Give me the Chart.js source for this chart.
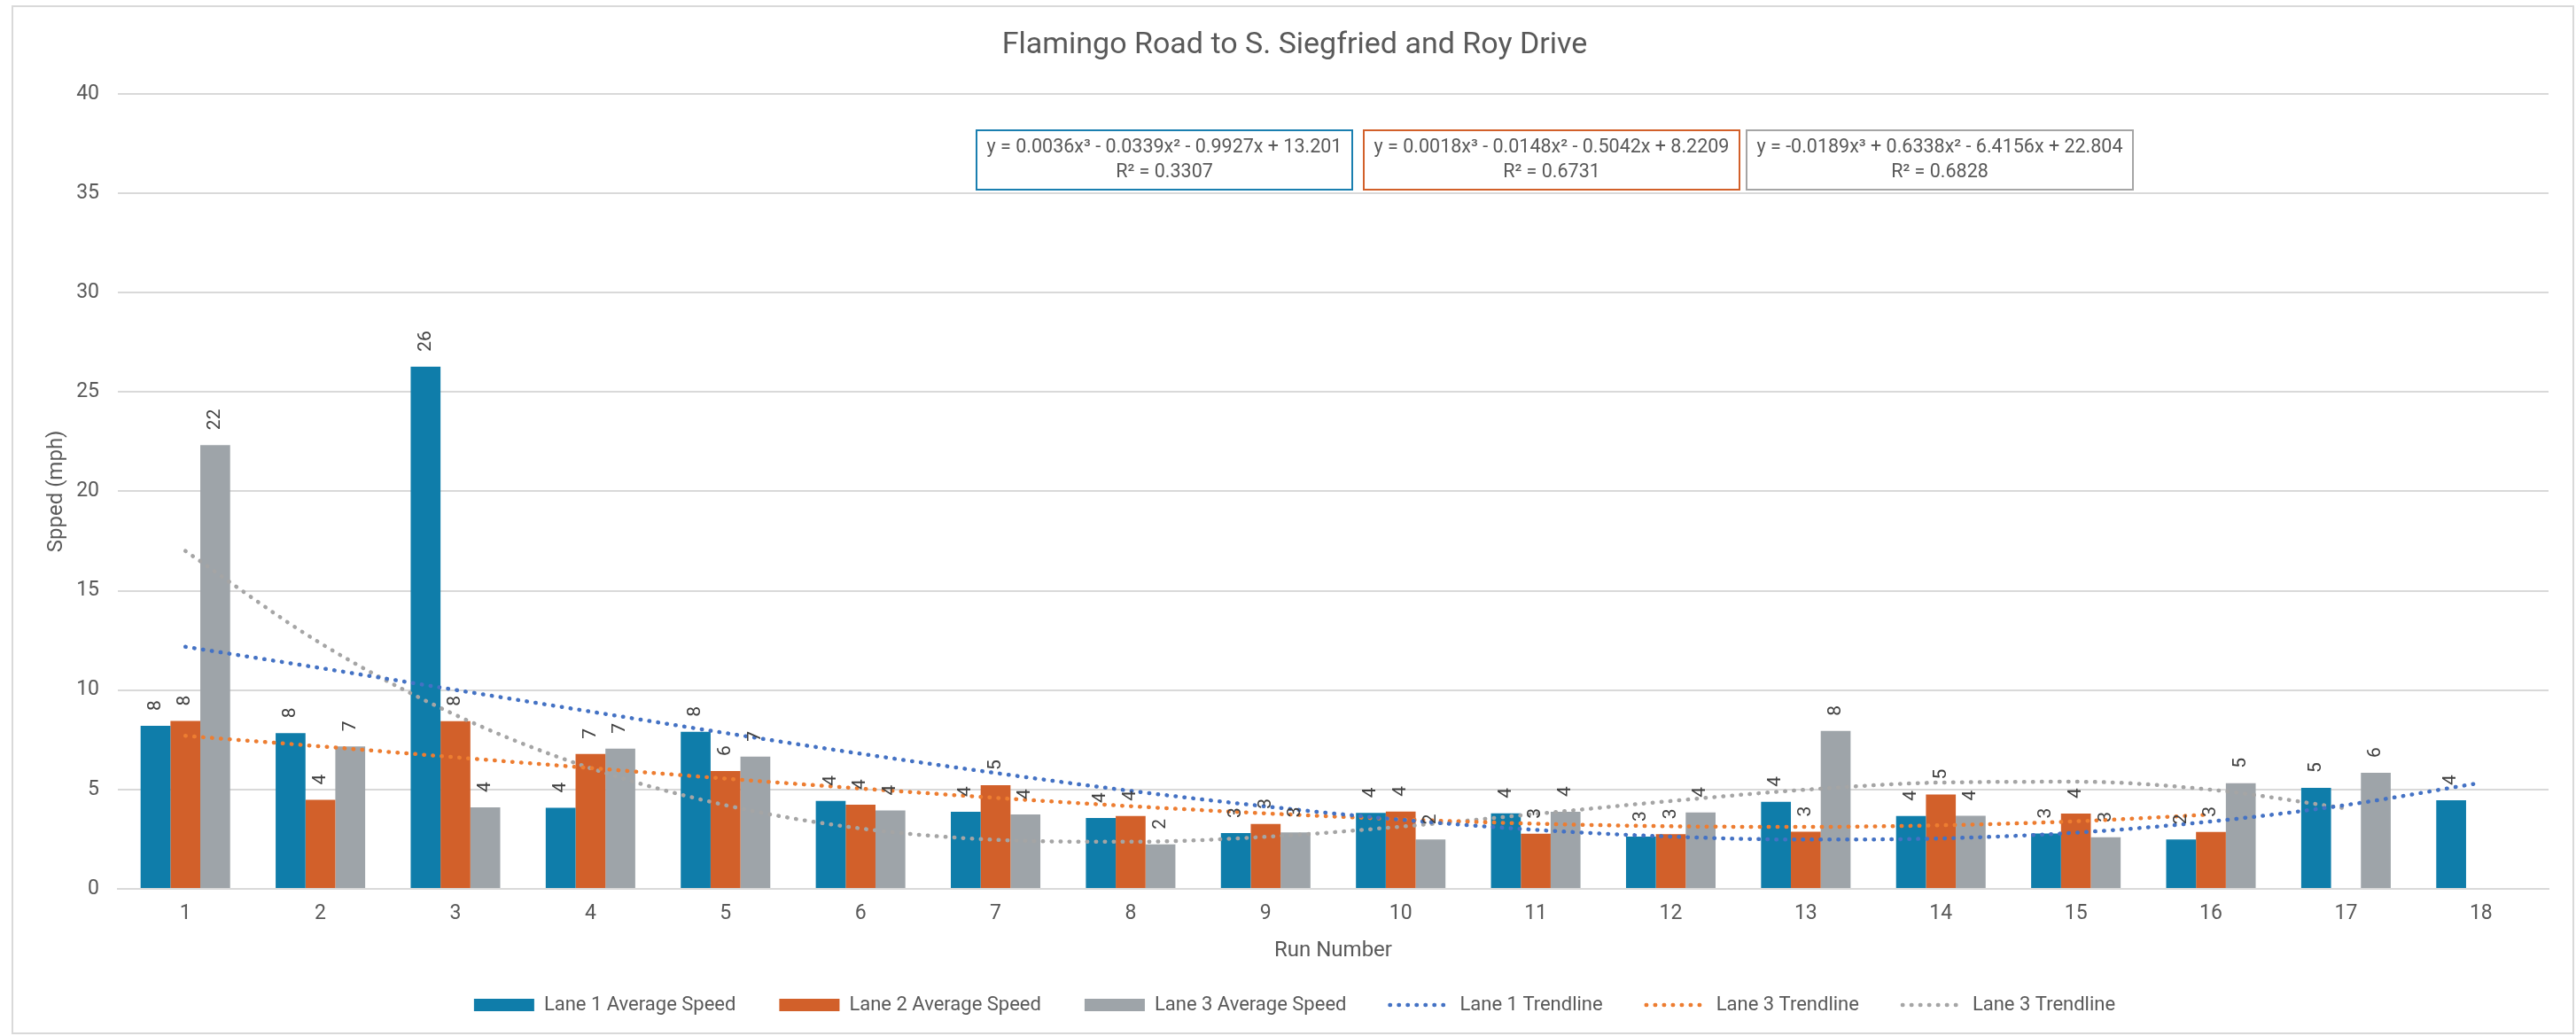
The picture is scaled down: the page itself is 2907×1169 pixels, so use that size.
<!DOCTYPE html>
<html>
<head>
<meta charset="utf-8">
<script src="https://cdn.jsdelivr.net/npm/chart.js@4/dist/chart.umd.min.js"></script>
<style>
  html, body { margin: 0; padding: 0; background: #ffffff; }
  #wrap { width: 2907px; height: 1169px; position: relative; }
</style>
</head>
<body>
<div id="wrap"><canvas id="c" width="2907" height="1169"></canvas></div>
<script>
// ---------- DATA ----------
const categories = ['1','2','3','4','5','6','7','8','9','10','11','12','13','14','15','16','17','18'];

const lane1Speed = [8.2, 7.84, 26.27, 4.08, 7.9, 4.42, 3.88, 3.57, 2.81, 3.82, 3.8, 2.63, 4.38, 3.67, 2.79, 2.48, 5.08, 4.46];
const lane2Speed = [8.45, 4.48, 8.44, 6.79, 5.93, 4.24, 5.22, 3.67, 3.27, 3.89, 2.78, 2.75, 2.88, 4.75, 3.79, 2.87, null, null];
const lane3Speed = [22.33, 7.17, 4.1, 7.05, 6.65, 3.95, 3.74, 2.24, 2.84, 2.48, 3.88, 3.85, 7.95, 3.68, 2.6, 5.32, 5.84, null];

const lane1Trend = [12.18, 11.11, 10.01, 8.92, 7.84, 6.80, 5.83, 4.93, 4.15, 3.48, 2.97, 2.63, 2.48, 2.54, 2.83, 3.39, 4.22, 5.34];
const lane2Trend = [7.70, 7.17, 6.62, 6.08, 5.55, 5.05, 4.58, 4.16, 3.80, 3.50, 3.28, 3.15, 3.12, 3.20, 3.40, 3.74];
const lane3Trend = [17.00, 12.36, 8.75, 6.07, 4.21, 3.04, 2.47, 2.37, 2.62, 3.13, 3.77, 4.42, 4.99, 5.35, 5.39, 4.99, 4.05];

const yTicks = [0, 5, 10, 15, 20, 25, 30, 35, 40];

const seriesNames = ['Lane 1 Average Speed', 'Lane 2 Average Speed', 'Lane 3 Average Speed',
                     'Lane 1 Trendline', 'Lane 3 Trendline', 'Lane 3 Trendline'];

const equationLines = [
  ['y = 0.0036x\u00B3 - 0.0339x\u00B2 - 0.9927x + 13.201', 'R\u00B2 = 0.3307'],
  ['y = 0.0018x\u00B3 - 0.0148x\u00B2 - 0.5042x + 8.2209', 'R\u00B2 = 0.6731'],
  ['y = -0.0189x\u00B3 + 0.6338x\u00B2 - 6.4156x + 22.804', 'R\u00B2 = 0.6828']
];

// ---------- STYLES ----------
const FONT = 'Roboto';
const TEXT = '#595959';
const colBar = ['#0F7DAA', '#D2602A', '#9EA4A9'];
const colTrend = ['#4472C4', '#ED7D31', '#A5A5A5'];
const boxBorder = ['#1A7FB0', '#D2602A', '#A5A5A5'];

// ---------- PLUGINS ----------
const framePlugin = {
  id: 'frame',
  beforeDraw(chart) {
    const c = chart.ctx;
    c.save();
    c.fillStyle = '#ffffff';
    c.fillRect(0, 0, chart.width, chart.height);
    c.strokeStyle = '#D9D9D9';
    c.lineWidth = 2;
    c.strokeRect(14, 7, 2890, 1159);
    c.restore();
  }
};

const barLabelPlugin = {
  id: 'barLabels',
  afterDatasetsDraw(chart) {
    const c = chart.ctx;
    c.save();
    c.font = '21px ' + FONT;
    c.fillStyle = '#404040';
    c.textAlign = 'left';
    c.textBaseline = 'middle';
    chart.data.datasets.forEach((ds, i) => {
      if (ds.type !== 'bar') return;
      const meta = chart.getDatasetMeta(i);
      meta.data.forEach((el, j) => {
        const v = ds.data[j];
        if (v === null || v === undefined) return;
        c.save();
        c.translate(el.x, el.y - 17);
        c.rotate(-Math.PI / 2);
        c.fillText(String(Math.round(v)), 0, 0);
        c.restore();
      });
    });
    c.restore();
  }
};

const eqPlugin = {
  id: 'eqBoxes',
  afterDraw(chart, args, opts) {
    const c = chart.ctx;
    c.save();
    opts.boxes.forEach((b, i) => {
      c.fillStyle = '#ffffff';
      c.fillRect(b.x, b.y, b.w, b.h);
      c.strokeStyle = boxBorder[i];
      c.lineWidth = 2;
      c.strokeRect(b.x, b.y, b.w, b.h);
      c.fillStyle = TEXT;
      c.font = '21.5px ' + FONT;
      c.textAlign = 'center';
      c.textBaseline = 'middle';
      const cx = b.x + b.w / 2;
      c.fillText(equationLines[i][0], cx, b.y + 20);
      c.fillText(equationLines[i][1], cx, b.y + 48);
    });
    c.restore();
  }
};

// ---------- CHART ----------
const trendDataset = (label, data, color) => ({
  type: 'line', label, data,
  borderColor: color, backgroundColor: color,
  borderWidth: 4.5, borderDash: [0.5, 9.5], borderCapStyle: 'round',
  pointRadius: 0, pointHoverRadius: 0,
  cubicInterpolationMode: 'monotone', fill: false, order: 0
});

new Chart(document.getElementById('c'), {
  type: 'bar',
  data: {
    labels: categories,
    datasets: [
      { type: 'bar', label: seriesNames[0], data: lane1Speed, backgroundColor: colBar[0], order: 1 },
      { type: 'bar', label: seriesNames[1], data: lane2Speed, backgroundColor: colBar[1], order: 1 },
      { type: 'bar', label: seriesNames[2], data: lane3Speed, backgroundColor: colBar[2], order: 1 },
      trendDataset(seriesNames[3], lane1Trend, colTrend[0]),
      trendDataset(seriesNames[4], lane2Trend, colTrend[1]),
      trendDataset(seriesNames[5], lane3Trend, colTrend[2])
    ]
  },
  options: {
    responsive: false,
    animation: false,
    devicePixelRatio: 1,
    layout: { padding: { left: 46, right: 31, top: 0, bottom: 14 } },
    datasets: { bar: { categoryPercentage: 0.663, barPercentage: 1.0 } },
    plugins: {
      title: {
        display: true,
        text: 'Flamingo Road to S. Siegfried and Roy Drive',
        color: TEXT,
        font: { family: FONT, size: 34, weight: 'normal' },
        padding: { top: 31, bottom: 34 }
      },
      legend: {
        position: 'bottom',
        labels: {
          usePointStyle: true,
          pointStyleWidth: 68,
          boxHeight: 14,
          padding: 49,
          color: TEXT,
          font: { family: FONT, size: 22 },
          generateLabels(chart) {
            const items = Chart.defaults.plugins.legend.labels.generateLabels(chart);
            items.forEach(it => {
              const ds = chart.data.datasets[it.datasetIndex];
              if (ds.type === 'line') {
                it.pointStyle = 'line';
                it.lineDash = ds.borderDash;
                it.lineCap = 'round';
                it.lineWidth = ds.borderWidth;
                it.strokeStyle = ds.borderColor;
                it.fillStyle = ds.borderColor;
              } else {
                it.pointStyle = 'rect';
                it.lineWidth = 0;
                it.fillStyle = ds.backgroundColor;
              }
            });
            items.sort((a, b) => a.datasetIndex - b.datasetIndex);
            return items;
          }
        }
      },
      tooltip: { enabled: false },
      eqBoxes: {
        boxes: [
          { x: 1102, y: 147, w: 424, h: 67 },
          { x: 1539, y: 147, w: 424, h: 67 },
          { x: 1971, y: 147, w: 436, h: 67 }
        ]
      }
    },
    scales: {
      x: {
        grid: { display: false, drawTicks: false },
        border: { display: true, color: '#D9D9D9', width: 2 },
        ticks: { color: TEXT, font: { family: FONT, size: 23 }, padding: 14 },
        title: {
          display: true, text: 'Run Number', color: TEXT,
          font: { family: FONT, size: 24 }, padding: { top: 0, bottom: -13 }
        },
        afterFit(s) { s.height = 71; }
      },
      y: {
        min: 0, max: 40,
        afterBuildTicks(s) { s.ticks = yTicks.map(v => ({ value: v })); },
        grid: { color: '#D9D9D9', lineWidth: 2, drawTicks: false },
        border: { display: false },
        ticks: { color: TEXT, font: { family: FONT, size: 23 }, padding: 21 },
        title: {
          display: true, text: 'Spped (mph)', color: TEXT,
          font: { family: FONT, size: 24 }, padding: { top: 4, bottom: 0 }
        },
        afterFit(s) { s.width = 87; }
      }
    }
  },
  plugins: [framePlugin, barLabelPlugin, eqPlugin]
});
</script>
</body>
</html>
